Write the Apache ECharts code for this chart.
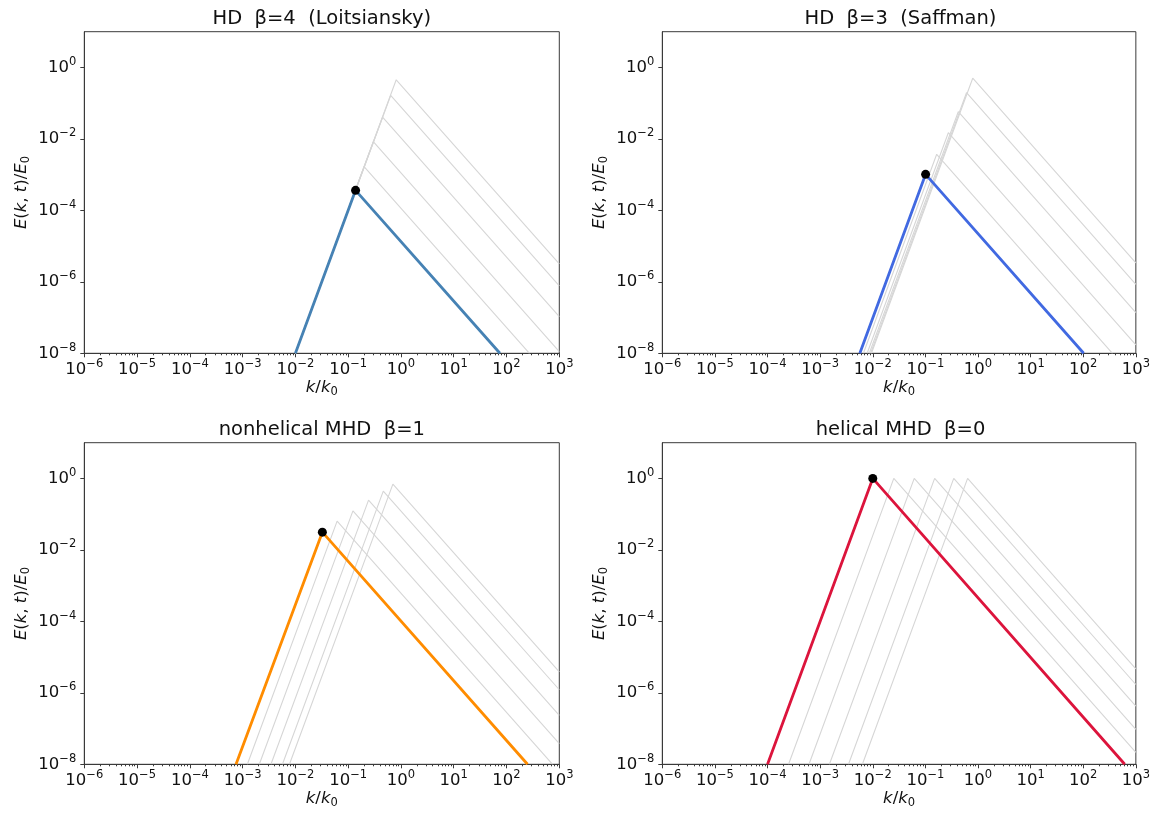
<!DOCTYPE html>
<html>
<head>
<meta charset="utf-8">
<script src="https://cdn.jsdelivr.net/npm/echarts@6/dist/echarts.min.js"></script>
<style>html,body{margin:0;padding:0;background:#fff}#c{width:1153px;height:813px}</style>
</head>
<body>
<div id="c"></div>
<script>
// ---- data ----
const titles = ['HD  β=4  (Loitsiansky)', 'HD  β=3  (Saffman)', 'nonhelical MHD  β=1', 'helical MHD  β=0'];
const colors = ['#4682b4', '#4169e1', '#ff8c00', '#dc143c'];
const xTickExponents = [-6, -5, -4, -3, -2, -1, 0, 1, 2, 3];
const yTickExponents = [-8, -6, -4, -2, 0];

// each curve: [foot (k, E), peak (k, E), end (k, E)]; earlier times first, final time last
const loitsianskyCurves = [
  [[0.0099, 1e-8], [0.813, 0.451], [1000, 3.19e-6]],
  [[0.0100, 1e-8], [0.638, 0.164], [1000, 7.74e-7]],
  [[0.0100, 1e-8], [0.448, 0.0404], [1000, 1.06e-7]],
  [[0.0099, 1e-8], [0.299, 0.00838], [1000, 1.12e-8]],
  [[0.0099, 1e-8], [0.200, 0.00167], [272, 1e-8]],
  [[0.0100, 1e-8], [0.138, 3.63e-4], [75, 1e-8]]
];
const saffmanCurves = [
  [[0.00944, 1e-8], [0.794, 0.50], [1000, 3.41e-6]],
  [[0.0091, 1e-8], [0.605, 0.196], [1000, 8.5e-7]],
  [[0.0086, 1e-8], [0.422, 0.0577], [1000, 1.37e-7]],
  [[0.00782, 1e-8], [0.273, 0.0149], [1000, 1.71e-8]],
  [[0.00664, 1e-8], [0.164, 0.00371], [359, 1e-8]],
  [[0.00568, 1e-8], [0.101, 0.00102], [102, 1e-8]]
];
const nonhelicalCurves = [
  [[0.00771, 1e-8], [0.703, 0.693], [1000, 3.85e-6]],
  [[0.00568, 1e-8], [0.462, 0.442], [1000, 1.22e-6]],
  [[0.00344, 1e-8], [0.243, 0.247], [1000, 2.33e-7]],
  [[0.00207, 1e-8], [0.123, 0.124], [1000, 3.79e-8]],
  [[0.00123, 1e-8], [0.0617, 0.0638], [746, 1e-8]],
  [[0.00075, 1e-8], [0.0324, 0.0314], [250, 1e-8]]
];
const helicalCurves = [
  [[0.00635, 1e-8], [0.635, 1], [1000, 4.70e-6]],
  [[0.00346, 1e-8], [0.346, 1], [1000, 1.71e-6]],
  [[0.00150, 1e-8], [0.150, 1], [1000, 4.25e-7]],
  [[0.000614, 1e-8], [0.0614, 1], [1000, 9.55e-8]],
  [[0.000251, 1e-8], [0.0251, 1], [1000, 2.15e-8]],
  [[0.0001, 1e-8], [0.01, 1], [615, 1e-8]]
];
const panelCurves = [loitsianskyCurves, saffmanCurves, nonhelicalCurves, helicalCurves];

// ---- layout / style ----
const FONT = 'DejaVu Sans';
const gridRects = [
  {left: 84.3, top: 31.7, width: 475, height: 321.6},
  {left: 662.3, top: 31.7, width: 476.4, height: 321.6},
  {left: 84.3, top: 442.7, width: 475, height: 321.6},
  {left: 662.3, top: 442.7, width: 476.4, height: 321.6}
];
const AX = '#3a3a3a';
const GREY = '#d6d6d6';
const TXT = '#111';

function supLabel(v) {
  const e = Math.round(Math.log10(v));
  const s = e < 0 ? '\u2212' + (-e) : String(e);
  return '{b|10}{s|' + s + '}';
}
const tickRich = {
  b: {fontFamily: FONT, fontSize: 16.5, color: TXT, lineHeight: 23},
  s: {fontFamily: FONT, fontSize: 11.5, color: TXT, lineHeight: 12, verticalAlign: 'top'}
};
const nameRich = {
  i: {fontFamily: FONT, fontStyle: 'italic', fontSize: 16.5, color: TXT, lineHeight: 21},
  n: {fontFamily: FONT, fontSize: 16.5, color: TXT, lineHeight: 21},
  s: {fontFamily: FONT, fontSize: 11.5, color: TXT, lineHeight: 10, verticalAlign: 'bottom'}
};

const xMajor = xTickExponents.map(e => Math.pow(10, e));
const yMajor = yTickExponents.map(e => Math.pow(10, e));
const xMinor = [];
xTickExponents.slice(0, -1).forEach(e => { for (let m = 2; m <= 9; m++) xMinor.push(m * Math.pow(10, e)); });

const grid = [], xAxis = [], yAxis = [], series = [], title = [];
gridRects.forEach((r, i) => {
  grid.push(Object.assign({show: true, borderColor: AX, borderWidth: 1, backgroundColor: '#fff', containLabel: false}, r));
  title.push({
    text: titles[i], left: r.left + r.width / 2, top: r.top - 23, textAlign: 'center', padding: 0,
    textStyle: {fontFamily: FONT, fontSize: 19.5, fontWeight: 'normal', color: TXT}
  });
  xAxis.push({
    type: 'log', logBase: 10, min: 1e-6, max: 1e3, gridIndex: i, position: 'bottom',
    axisLine: {show: true, lineStyle: {color: AX, width: 1}},
    axisTick: {show: true, length: 4, lineStyle: {color: AX}},
    axisLabel: {show: true, margin: 5, formatter: supLabel, rich: tickRich},
    splitLine: {show: false}, minorTick: {show: false},
    name: '{i|k}{n|/}{i|k}{s|0}', nameLocation: 'middle', nameGap: 22,
    nameTextStyle: {rich: nameRich}
  });
  xAxis.push({
    type: 'log', logBase: 10, min: 1e-6, max: 1e3, gridIndex: i, position: 'bottom',
    axisLine: {show: false},
    axisTick: {show: true, length: 2, customValues: xMinor, lineStyle: {color: AX}},
    axisLabel: {show: false}, splitLine: {show: false}
  });
  yAxis.push({
    type: 'log', logBase: 10, min: 1e-8, max: 10, gridIndex: i,
    axisLine: {show: true, lineStyle: {color: AX, width: 1}},
    axisTick: {show: true, length: 4, customValues: yMajor, lineStyle: {color: AX}},
    axisLabel: {show: true, margin: 8, customValues: yMajor, formatter: supLabel, rich: tickRich},
    splitLine: {show: false},
    name: '{i|E}{n|(}{i|k}{n|, }{i|t}{n|)/}{i|E}{s|0}', nameLocation: 'middle', nameGap: 52, nameRotate: 90,
    nameTextStyle: {rich: nameRich}
  });
  const curves = panelCurves[i];
  curves.forEach((c, j) => {
    const final = j === curves.length - 1;
    series.push({
      type: 'line', xAxisIndex: 2 * i, yAxisIndex: i, data: c,
      showSymbol: false, symbol: 'none', silent: true, clip: true,
      lineStyle: {color: final ? colors[i] : GREY, width: final ? 2.8 : 1.1},
      z: final ? 5 : 2
    });
  });
  const last = curves[curves.length - 1];
  series.push({
    type: 'scatter', xAxisIndex: 2 * i, yAxisIndex: i, data: [last[1]],
    symbol: 'circle', symbolSize: 9, itemStyle: {color: '#000', opacity: 1}, silent: true, z: 6
  });
});

const chart = echarts.init(document.getElementById('c'), null, {renderer: 'canvas'});
chart.setOption({animation: false, backgroundColor: '#fff', title, grid, xAxis, yAxis, series});
</script>
</body>
</html>
